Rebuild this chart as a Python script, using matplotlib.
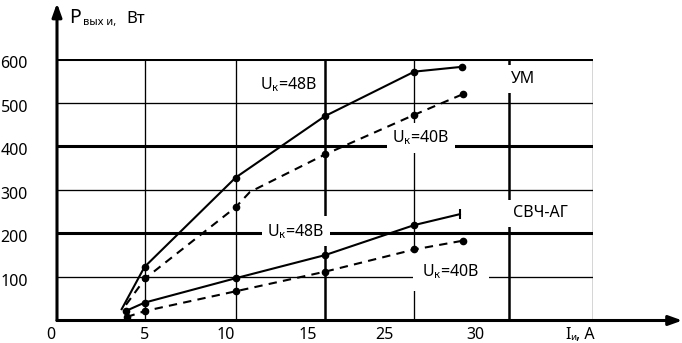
import numpy as np
import matplotlib.pyplot as plt
from matplotlib.transforms import ScaledTranslation

plt.rcParams['font.family'] = ['Noto Sans', 'DejaVu Sans']
plt.rcParams['mathtext.fontset'] = 'custom'
plt.rcParams['mathtext.rm'] = 'Noto Sans'
plt.rcParams['mathtext.it'] = 'Noto Sans'
plt.rcParams['mathtext.bf'] = 'Noto Sans:bold'

# curves (x in grid units, y in W)
um48_x = [3.62, 4.9, 10, 15, 20, 22.65]
um48_y = [26, 123, 328, 469, 571, 582]
um40_x = [3.86, 4.95, 10, 10.8, 15, 20, 22.7]
um40_y = [36, 97, 260, 295, 381, 472, 519]
ag48_x = [3.86, 4.9, 10, 15, 20, 22.55]
ag48_y = [22, 41, 97, 150, 219, 244]
ag40_x = [3.9, 4.95, 10, 15, 20, 22.7]
ag40_y = [8, 22, 67, 112, 163, 183]

y_ticks = [100, 200, 300, 400, 500, 600]
x_tick_pos = [-0.35, 4.88, 9.42, 14.02, 18.34, 23.44]
x_tick_labels = ['0', '5', '10', '15', '25', '30']
grid_x = [4.9, 10, 15, 20, 25.3, 30]
grid_x_thick = [False, False, True, False, True, False]

W, H = 682, 343
PX = 17.87  # pixels per x unit
X0 = -0.6  # left limit, so the "0" label stays inside the view
left_px = 57 + X0 * PX
fig = plt.figure(figsize=(W / 100, H / 100), dpi=100)
ax = fig.add_axes([left_px / W, 22.5 / H, (593 - left_px) / W, 261.5 / H])
ax.set_xlim(X0, 30)
ax.set_ylim(0, 600)
for s in ax.spines.values():
    s.set_visible(False)

# grid
for v in y_ticks:
    ax.hlines(v, 0, 30, color='k', lw=2.2 if v in (200, 400, 600) else 0.95, zorder=1)
for gx, thick in zip(grid_x, grid_x_thick):
    ax.vlines(gx, 0, 600, color='k', lw=1.8 if thick else 0.95, zorder=1)

# axes with arrows
arr = dict(arrowstyle='-|>,head_length=0.5,head_width=0.18', mutation_scale=16,
           lw=2.2, color='k', shrinkA=0, shrinkB=0)
ax.annotate('', xy=(0, 728), xytext=(0, 0), xycoords='data',
            arrowprops=arr, annotation_clip=False)
ax.annotate('', xy=(35, 0), xytext=(0, 0), xycoords='data',
            arrowprops=arr, annotation_clip=False)

# curves
ax.plot(um48_x, um48_y, color='k', lw=1.5, marker='o', ms=4.5,
        markevery=[1, 2, 3, 4, 5], zorder=3, clip_on=False)
ax.plot(um40_x, um40_y, color='k', lw=1.5, dashes=(4, 3), marker='o', ms=4.5,
        markevery=[1, 2, 4, 5, 6], zorder=3, clip_on=False)
ax.plot(ag48_x, ag48_y, color='k', lw=1.5, marker='o', ms=4.5,
        markevery=[0, 1, 2, 3, 4], zorder=3, clip_on=False)
ax.plot(ag48_x[-1:], ag48_y[-1:], color='k', marker='|', ms=7, mew=1.5, zorder=3)
ax.plot(ag40_x, ag40_y, color='k', lw=1.5, dashes=(4, 3), marker='o', ms=4.5,
        zorder=3, clip_on=False)

# ticks
ax.set_yticks(y_ticks, [str(v) for v in y_ticks])
ax.set_xticks(x_tick_pos, x_tick_labels)
ax.tick_params(axis='y', length=0, pad=(left_px - 28) * 0.72, labelsize=11.5)
ax.tick_params(axis='x', length=0, pad=5, labelsize=11.5)
shift = ScaledTranslation(0, -0.03, fig.dpi_scale_trans)
for lab in ax.get_yticklabels():
    lab.set_transform(lab.get_transform() + shift)

# x axis title
fig.text(565 / W, 1 - 339 / H, 'I', fontsize=11.5, va='baseline')
fig.text(570 / W, 1 - 340 / H, 'и', fontsize=7, va='baseline')
fig.text(576 / W, 1 - 339 / H, ', A', fontsize=11.5, va='baseline')

# curve labels
box = dict(fc='white', ec='none', pad=4)
ax.text(12.98, 540, r'U$_\mathrm{к}$=48В', ha='center', va='center', fontsize=11.5, zorder=2.5, bbox=box)
ax.text(20.37, 419, r'U$_\mathrm{к}$=40В', ha='center', va='center', fontsize=11.5, zorder=2.5, bbox=box)
ax.text(13.37, 205, r'U$_\mathrm{к}$=48В', ha='center', va='center', fontsize=11.5, zorder=2.5, bbox=box)
ax.text(22.05, 111, r'U$_\mathrm{к}$=40В', ha='center', va='center', fontsize=11.5, zorder=2.5,
        bbox=dict(fc='white', ec='none', pad=7))
ax.text(26.08, 554, 'УМ', ha='center', va='center', fontsize=11.5, zorder=2.5, bbox=box)
ax.text(27.08, 246, 'СВЧ-АГ', ha='center', va='center', fontsize=11.5, zorder=2.5, bbox=box)

# y axis title
fig.text(69 / W, 1 - 23 / H, 'P', fontsize=14, va='baseline')
fig.text(83 / W, 1 - 25 / H, 'вых и,', fontsize=8, va='baseline')
fig.text(126 / W, 1 - 23 / H, 'Вт', fontsize=12, va='baseline')

plt.savefig('out.png', dpi=100)
